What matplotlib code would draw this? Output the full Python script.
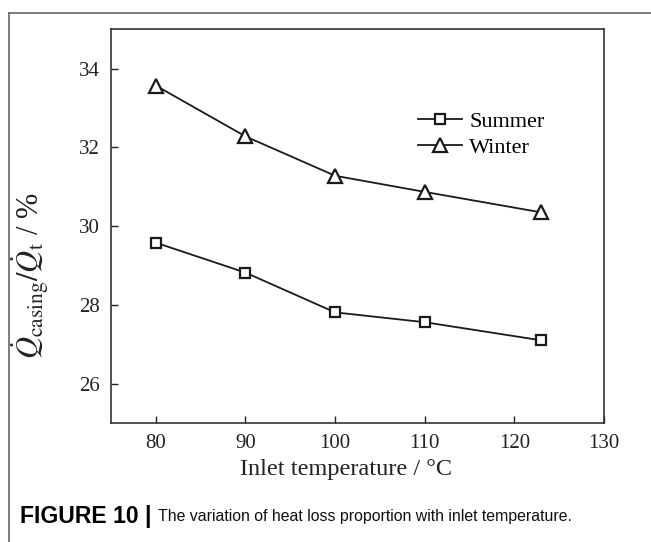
import matplotlib
matplotlib.use("Agg")
import matplotlib.pyplot as plt
from matplotlib.lines import Line2D

plt.rcParams['mathtext.fontset'] = 'stix'
plt.rcParams['font.family'] = ['Liberation Serif', 'DejaVu Serif']

temps_summer = [80, 90, 100, 110, 123]
summer = [29.58, 28.82, 27.81, 27.56, 27.10]
temps_winter = [80, 90, 100, 110, 123]
winter = [33.57, 32.28, 31.28, 30.87, 30.35]
xticks = [80, 90, 100, 110, 120, 130]
yticks = [26, 28, 30, 32, 34]

W, H = 651, 542
fig = plt.figure(figsize=(W / 100, H / 100), dpi=100)
ax = fig.add_axes([111 / W, 1 - 423 / H, (604 - 111) / W, (423 - 29.3) / H])

ax.plot(temps_summer, summer, color='#1a1a1a', lw=1.3, marker='s', ms=7.5,
        mfc='white', mec='#1a1a1a', mew=1.6, label='Summer')
ax.plot(temps_winter, winter, color='#1a1a1a', lw=1.3, marker='^', ms=10,
        mfc='white', mec='#1a1a1a', mew=1.6, label='Winter')

ax.set_xlim(75, 130)
ax.set_ylim(25, 35)
ax.set_xticks(xticks)
ax.set_yticks(yticks)
ax.tick_params(direction='in', length=5, width=1, labelsize=15, colors='#222222',
               top=False, right=False, pad=8)
for s in ax.spines.values():
    s.set_linewidth(1.2)
    s.set_color('#333333')

ax.set_xlabel('Inlet temperature / °C', fontsize=17.5, color='#222222', va='center')
ax.xaxis.set_label_coords((346 - 111) / 493, -(470 - 423) / 393.7)
ax.set_ylabel(r'$\dot{Q}_{\rm casing}/\dot{Q}_{\rm t}$ / %', fontsize=22,
              color='#222222', va='center')
ax.yaxis.set_label_coords((30 - 111) / 493, (423 - 276) / 393.7)

leg = ax.legend(loc='upper left', bbox_to_anchor=((418 - 111) / 493, (423 - 111) / 393.7),
                frameon=False, fontsize=16, handlelength=2.0, handletextpad=0.3,
                labelspacing=0.25, borderaxespad=0, borderpad=0)

# outer frame (top and left edges)
fig.add_artist(Line2D([9 / W, 1], [1 - 13.3 / H] * 2, color='#666666', lw=1.2))
fig.add_artist(Line2D([9 / W] * 2, [0, 1 - 13.3 / H], color='#666666', lw=1.2))

# caption
cap_fonts = ['Liberation Sans Narrow', 'Liberation Sans']
cy = 1 - 517 / H
t1 = fig.text(20 / W, cy, 'FIGURE 10 |', family=cap_fonts, weight='bold',
              fontsize=17, va='center', color='black')
fig.canvas.draw()
bb = t1.get_window_extent()
if bb.width > 132:
    t1.set_fontsize(17 * 132 / bb.width)
    fig.canvas.draw()
    bb = t1.get_window_extent()
x2 = bb.x1 + 6
t2 = fig.text(x2 / W, cy, 'The variation of heat loss proportion with inlet temperature.',
              family=cap_fonts, fontsize=17, va='center', color='#111111')
fig.canvas.draw()
w2 = t2.get_window_extent().width
if w2 > 572 - x2:
    t2.set_fontsize(17 * (572 - x2) / w2)

fig.savefig('out.png', dpi=100)
